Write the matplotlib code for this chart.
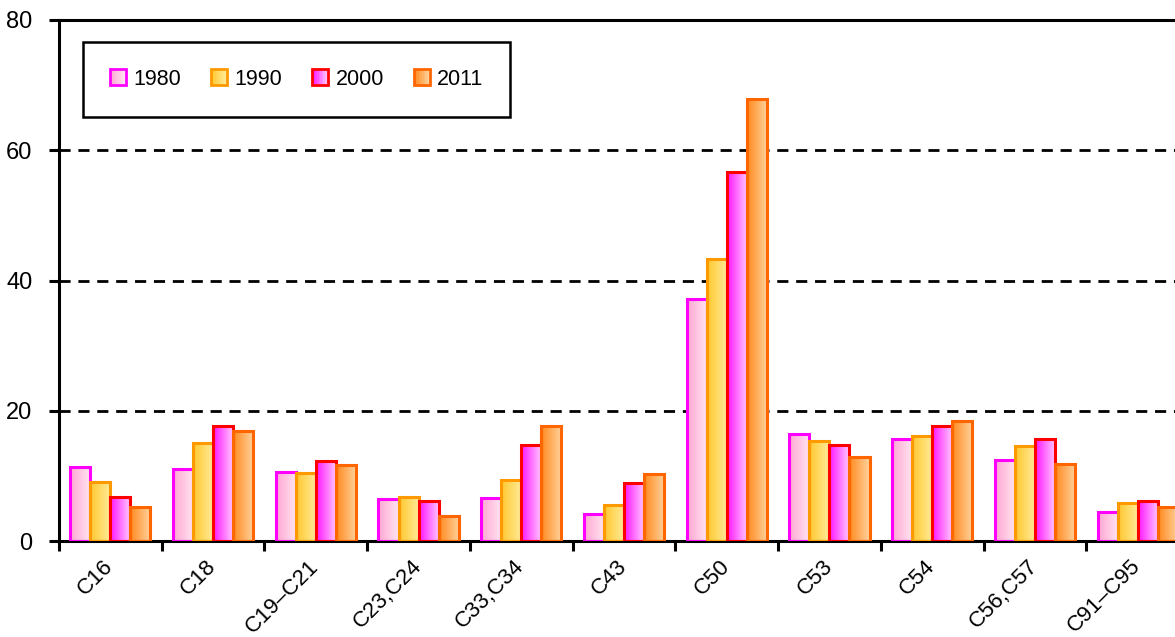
import matplotlib
matplotlib.use('Agg')
import matplotlib.pyplot as plt
import matplotlib.transforms as mtransforms
import numpy as np
from matplotlib.colors import to_rgb
from matplotlib.patches import Patch, Rectangle
from matplotlib.legend_handler import HandlerBase

plt.rcParams['font.family'] = ['Liberation Sans', 'DejaVu Sans']

# Data
categories = ['C16', 'C18', 'C19\u2013C21', 'C23,C24', 'C33,C34', 'C43',
              'C50', 'C53', 'C54', 'C56,C57', 'C91\u2013C95']
years = ['1980', '1990', '2000', '2011']
v1980 = [11.3, 11.1, 10.6, 6.5, 6.6, 4.1, 37.2, 16.5, 15.7, 12.4, 4.4]
v1990 = [9.1, 15.1, 10.5, 6.7, 9.3, 5.5, 43.3, 15.4, 16.1, 14.6, 5.9]
v2000 = [6.8, 17.7, 12.3, 6.2, 14.7, 8.9, 56.6, 14.7, 17.6, 15.6, 6.2]
v2011 = [5.2, 16.9, 11.6, 3.8, 17.7, 10.3, 67.8, 12.9, 18.5, 11.8, 5.2]
series = [v1980, v1990, v2000, v2011]

# gradient (left colour, right colour) and edge colour per series
grad_left = ['#ffa6d2', '#ffc82e', '#ff14ff', '#ff8a1f']
grad_right = ['#ffe6f2', '#ffec9c', '#ffccff', '#ffd39e']
edges = ['#ff00ff', '#ff9900', '#ff0000', '#ff6600']


def gradient_row(c0, c1, n=64):
    a, b = np.array(to_rgb(c0)), np.array(to_rgb(c1))
    t = np.linspace(0, 1, n)[:, None]
    return (a + (b - a) * t)[None, :, :]


class GradientHandler(HandlerBase):
    def __init__(self, c0, c1, ec):
        super().__init__()
        self.c0, self.c1, self.ec = c0, c1, ec

    def create_artists(self, legend, orig_handle, xdescent, ydescent,
                       width, height, fontsize, trans):
        cols = gradient_row(self.c0, self.c1, 10)[0]
        arts = []
        for k, c in enumerate(cols):
            arts.append(Rectangle((-xdescent + width * k / len(cols), -ydescent),
                                  width / len(cols) * 1.05, height,
                                  facecolor=c, edgecolor='none', transform=trans))
        arts.append(Rectangle((-xdescent, -ydescent), width, height,
                              facecolor='none', edgecolor=self.ec, lw=2,
                              transform=trans))
        return arts


fig = plt.figure(figsize=(11.75, 6.37), dpi=100)
ax = fig.add_axes([59 / 1175, 1 - 541 / 637, 1130 / 1175, 521 / 637])

x = np.arange(len(categories)) + 0.5
w = 0.195
for i, vals in enumerate(series):
    bars = ax.bar(x + (i - 1.5) * w, vals, width=w, facecolor='none',
                  edgecolor=edges[i], linewidth=2.2, zorder=3)
    img = gradient_row(grad_left[i], grad_right[i])
    for b in bars:
        ax.imshow(img, extent=(b.get_x(), b.get_x() + b.get_width(), 0, b.get_height()),
                  aspect='auto', interpolation='bilinear', zorder=2)

ax.set_xlim(0, len(categories))
ax.set_ylim(0, 80)
ax.set_yticks([0, 20, 40, 60, 80])
for yv in [20, 40, 60]:
    ax.axhline(yv, color='black', lw=2, ls=(0, (4, 2.8)), zorder=1)

ax.set_xticks(x)
ax.set_xticklabels(categories, rotation=45, ha='right', va='center',
                   rotation_mode='anchor')
shift = mtransforms.ScaledTranslation(6 / 100, 0, fig.dpi_scale_trans)
for lbl in ax.get_xticklabels():
    lbl.set_transform(lbl.get_transform() + shift)
ax.set_xticks(np.arange(len(categories) + 1), minor=True)
ax.tick_params(axis='x', which='major', length=0, pad=16, labelsize=16)
ax.tick_params(axis='x', which='minor', length=7, width=2.2, direction='out')
ax.tick_params(axis='y', length=7, width=2.2, direction='out', pad=12, labelsize=17)

for side in ['left', 'bottom', 'top']:
    ax.spines[side].set_linewidth(2.2)
ax.spines['right'].set_visible(False)

handles = [Patch(label=y) for y in years]
hmap = {h: GradientHandler(grad_left[i], grad_right[i], edges[i])
        for i, h in enumerate(handles)}
leg = ax.legend(handles=handles, handler_map=hmap, ncol=4, loc='upper left',
                bbox_to_anchor=(0.0212, 0.958), borderaxespad=0, fontsize=15.5,
                handlelength=0.75, handleheight=0.75, handletextpad=0.33,
                columnspacing=1.4, borderpad=1.25, fancybox=False,
                framealpha=1, edgecolor='black')
leg.get_frame().set_linewidth(1.8)

fig.savefig('out.png', dpi=100)
